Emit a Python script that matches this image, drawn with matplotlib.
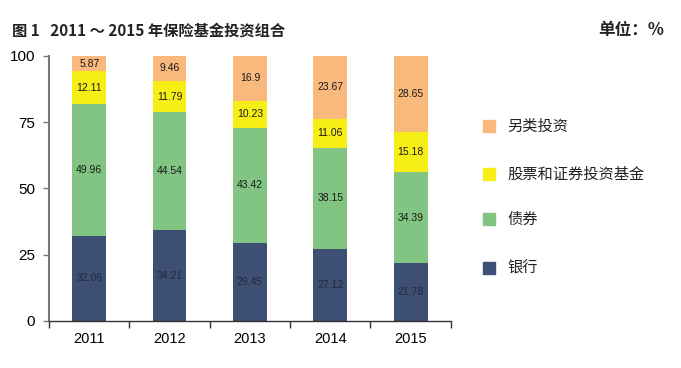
import matplotlib
matplotlib.use("Agg")
import matplotlib.pyplot as plt
import numpy as np

plt.rcParams['font.family'] = ['Noto Sans CJK SC', 'DejaVu Sans']

years = ['2011', '2012', '2013', '2014', '2015']
bank = [32.06, 34.21, 29.45, 27.12, 21.78]
bonds = [49.96, 44.54, 43.42, 38.15, 34.39]
stocks = [12.11, 11.79, 10.23, 11.06, 15.18]
other = [5.87, 9.46, 16.9, 23.67, 28.65]

series = [('银行', bank, '#3d4f72', '#1e2a3e'),
          ('债券', bonds, '#82c482', '#1a1a1a'),
          ('股票和证券投资基金', stocks, '#f7ee16', '#1a1a1a'),
          ('另类投资', other, '#f9b87c', '#1a1a1a')]

fig = plt.figure(figsize=(6.81, 3.68), dpi=100)
ax = fig.add_axes([0.072, 0.128, 0.590, 0.720])

x = np.arange(len(years))
bottom = np.zeros(len(years))
for name, vals, col, tcol in series:
    vals = np.array(vals)
    ax.bar(x, vals, 0.42, bottom=bottom, color=col, label=name)
    for xi, v, bt in zip(x, vals, bottom):
        ax.text(xi, bt + v / 2, f'{v:g}', ha='center', va='center',
                fontsize=7.5, color=tcol, family=['Liberation Sans', 'DejaVu Sans'])
    bottom += vals

ax.set_xlim(-0.5, len(years) - 0.5)
ax.set_ylim(0, 100)
ax.set_yticks([0, 25, 50, 75, 100])
ax.set_yticklabels(['0', '25', '50', '75', '100'], fontsize=11,
                   family=['Liberation Sans', 'DejaVu Sans'])
ax.set_xticks(np.arange(len(years) + 1) - 0.5)
ax.set_xticklabels([])
ax.tick_params(axis='x', length=5, width=1, color='#333333', direction='out')
ax.tick_params(axis='y', length=4, width=1, color='#777777', direction='out', pad=6)
for xi, yr in zip(x, years):
    ax.text(xi, -7, yr, ha='center', va='center', fontsize=10.5,
            family=['Liberation Sans', 'DejaVu Sans'], transform=ax.transData)
for s in ['top', 'right']:
    ax.spines[s].set_visible(False)
ax.spines['left'].set_color('#777777')
ax.spines['left'].set_linewidth(1.5)
ax.spines['bottom'].set_color('#333333')
ax.spines['bottom'].set_linewidth(1)

fig.text(0.018, 0.918, '图 1   2011 ～ 2015 年保险基金投资组合', fontsize=11,
         fontweight='bold', ha='left', va='center', color='#222222')
fig.text(0.975, 0.918, '单位：%', fontsize=12, fontweight='bold',
         ha='right', va='center', color='#222222')

leg_y = [126, 174, 219, 268]
for (name, vals, col, tcol), yy in zip(reversed(series), leg_y):
    yf = 1 - yy / 368
    fig.patches.append(plt.Rectangle((483 / 681, yf - 6 / 368), 12 / 681, 12 / 368,
                                     transform=fig.transFigure, color=col))
    fig.text(507 / 681, yf, name, fontsize=11, ha='left', va='center', color='#222222')

fig.savefig('out.png', dpi=100)
